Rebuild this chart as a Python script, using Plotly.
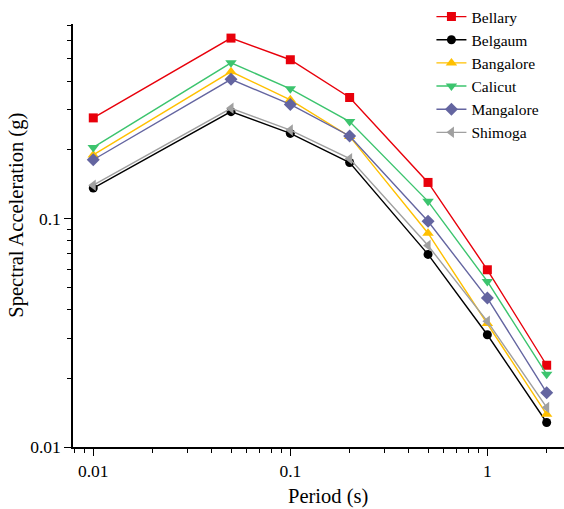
import plotly.graph_objects as go
import numpy as np

# Spectral periods (s)
periods = [0.01, 0.05, 0.1, 0.2, 0.5, 1.0, 2.0]

# Spectral acceleration (g) per site
bellary = [0.276, 0.617, 0.496, 0.339, 0.144, 0.0597, 0.0228]
belgaum = [0.136, 0.294, 0.236, 0.176, 0.0697, 0.0310, 0.0128]
bangalore = [0.190, 0.440, 0.331, 0.229, 0.0863, 0.0347, 0.0139]
calicut = [0.205, 0.481, 0.370, 0.266, 0.119, 0.0531, 0.0208]
mangalore = [0.181, 0.407, 0.316, 0.230, 0.0973, 0.0449, 0.0173]
shimoga = [0.140, 0.304, 0.244, 0.183, 0.0762, 0.0355, 0.0149]

series = [
    ("Bellary", bellary, "#E8000B", "square", 9),
    ("Belgaum", belgaum, "#000000", "circle", 9),
    ("Bangalore", bangalore, "#FFC000", "triangle-up", 10),
    ("Calicut", calicut, "#3CC46E", "triangle-down", 10),
    ("Mangalore", mangalore, "#6465A0", "diamond", 10),
    ("Shimoga", shimoga, "#A0A0A0", "triangle-left", 10),
]

x_major = [0.01, 0.1, 1]
x_minor = [0.008, 0.009] + [m * 0.01 for m in range(2, 10)] + [m * 0.1 for m in range(2, 10)] + [2]
y_major = [0.01, 0.1]
y_minor = [m * 0.01 for m in range(2, 10)] + [m * 0.1 for m in range(2, 8)]

fig = go.Figure()
for name, vals, color, sym, msize in series:
    fig.add_trace(go.Scatter(
        x=periods, y=vals, name=name, mode="lines+markers",
        line=dict(color=color, width=1.4),
        marker=dict(symbol=sym, size=msize, color=color),
    ))

serif = "Liberation Serif"

fig.update_layout(
    width=564, height=509,
    margin=dict(l=73, r=0, t=23, b=62),
    paper_bgcolor="white", plot_bgcolor="white",
    font=dict(family=serif, color="#000000", size=16),
    showlegend=True,
    legend=dict(
        x=0.730, y=1.057, xanchor="left", yanchor="top",
        font=dict(family=serif, size=15.5, color="#000000"),
        bgcolor="rgba(0,0,0,0)", tracegroupgap=0,
    ),
    xaxis=dict(
        type="log", range=[np.log10(0.00789), 0.389],
        tickvals=x_major, ticktext=["0.01", "0.1", "1"],
        ticks="outside", ticklen=7, tickwidth=1.3, tickcolor="#000",
        minor=dict(tickvals=x_minor, ticks="outside", ticklen=4, tickwidth=1.2, tickcolor="#000"),
        showline=True, linecolor="#000", linewidth=1.5,
        showgrid=False, zeroline=False,
        tickfont=dict(family=serif, size=17.5, color="#000"),
    ),
    yaxis=dict(
        type="log", range=[-2, -0.148],
        tickvals=y_major, ticktext=["0.01", "0.1"],
        ticks="outside", ticklen=7, tickwidth=1.3, tickcolor="#000",
        minor=dict(tickvals=y_minor, ticks="outside", ticklen=4, tickwidth=1.2, tickcolor="#000"),
        showline=True, linecolor="#000", linewidth=1.5,
        showgrid=False, zeroline=False,
        tickfont=dict(family=serif, size=17.5, color="#000"),
    ),
    annotations=[
        dict(text="Period (s)", xref="paper", yref="paper", x=0.519, y=-0.118,
             xanchor="center", yanchor="middle", showarrow=False,
             font=dict(family=serif, size=20.5, color="#000")),
        dict(text="Spectral Acceleration (g)", xref="paper", yref="paper", x=-0.114, y=0.547,
             xanchor="center", yanchor="middle", textangle=-90, showarrow=False,
             font=dict(family=serif, size=20.5, color="#000")),
    ],
)

fig.write_html("out.html")
